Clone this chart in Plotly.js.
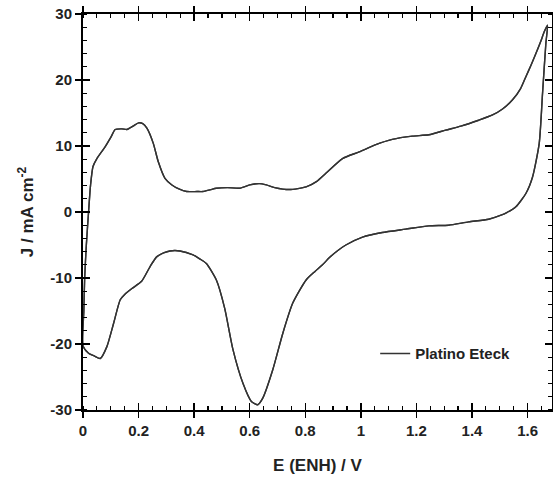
<!DOCTYPE html>
<html>
<head>
<meta charset="utf-8">
<script src="https://cdn.plot.ly/plotly-3.0.1.min.js"></script>
<style>html,body{margin:0;padding:0;background:#fff;}#chart{width:553px;height:481px;}</style>
</head>
<body>
<div id="chart"></div>
<script>
// Anodic sweep (E in V vs ENH, J in mA cm^-2)
const anodicE = [0, 0.003, 0.006, 0.012, 0.02, 0.027, 0.036, 0.05, 0.08, 0.1, 0.116, 0.14, 0.158, 0.18, 0.2, 0.215, 0.23, 0.253, 0.271, 0.295, 0.32, 0.345, 0.373, 0.41, 0.432, 0.46, 0.48, 0.52, 0.564, 0.6, 0.635, 0.66, 0.69, 0.743, 0.803, 0.84, 0.875, 0.934, 0.994, 1.054, 1.113, 1.185, 1.245, 1.305, 1.36, 1.424, 1.474, 1.51, 1.546, 1.575, 1.594, 1.612, 1.63, 1.648, 1.66, 1.672];
const anodicJ = [-20.3, -15, -10, -5, 0, 4, 6.9, 8.1, 9.9, 11.3, 12.5, 12.6, 12.5, 13.0, 13.5, 13.4, 12.7, 10.4, 7.6, 5.1, 4.1, 3.5, 3.1, 3.1, 3.1, 3.4, 3.6, 3.7, 3.6, 4.1, 4.3, 4.1, 3.7, 3.4, 3.8, 4.6, 5.9, 8.1, 9.1, 10.2, 11.0, 11.5, 11.7, 12.4, 13.0, 13.9, 14.7, 15.6, 17.0, 18.7, 20.5, 22.2, 24.0, 25.9, 27.3, 28.3];
// Cathodic sweep
const cathodicE = [1.666, 1.654, 1.642, 1.618, 1.594, 1.558, 1.525, 1.507, 1.46, 1.388, 1.316, 1.245, 1.161, 1.077, 1.006, 0.946, 0.915, 0.887, 0.862, 0.835, 0.803, 0.755, 0.719, 0.683, 0.647, 0.629, 0.606, 0.576, 0.54, 0.51, 0.48, 0.444, 0.42, 0.396, 0.349, 0.313, 0.29, 0.265, 0.241, 0.211, 0.176, 0.15, 0.134, 0.11, 0.086, 0.062, 0.04, 0.02, 0];
const cathodicJ = [25.6, 18.0, 10.4, 5.3, 2.8, 0.8, -0.1, -0.45, -1.1, -1.5, -2.0, -2.1, -2.6, -3.1, -3.8, -5.0, -5.9, -6.9, -8.0, -9.0, -10.3, -13.8, -18.4, -23.9, -28.2, -29.2, -28.7, -26.0, -20.9, -14.6, -10.3, -7.8, -7.1, -6.5, -5.9, -5.9, -6.2, -6.8, -8.3, -10.5, -11.6, -12.5, -13.3, -16.9, -20.4, -22.2, -21.8, -21.4, -20.3];

const seriesName = "Platino Eteck";
const xTitle = "E (ENH) / V";
const yTitle = "J / mA cm<sup>-2</sup>";
const xTickVals = [0, 0.2, 0.4, 0.6, 0.8, 1, 1.2, 1.4, 1.6];
const xTickText = ["0", "0.2", "0.4", "0.6", "0.8", "1", "1.2", "1.4", "1.6"];
const yTickVals = [-30, -20, -10, 0, 10, 20, 30];
const yTickText = ["-30", "-20", "-10", "0", "10", "20", "30"];

const E = anodicE.concat(cathodicE);
const J = anodicJ.concat(cathodicJ);

const xRange = [0, 1.688];
const yRange = [-30, 30];
const fontFam = "Liberation Sans, Arial, sans-serif";
const tickFont = {family: fontFam, size: 15, color: "#222", weight: "bold"};
const lineStyle = {color: "#333", width: 1.4, shape: "spline", smoothing: 0.6};

const trace = {x: E, y: J, type: "scatter", mode: "lines", name: seriesName, line: lineStyle};
// same curve on the overlay axes (carries the inner halves of the major ticks)
const traceOverlay = {x: E, y: J, type: "scatter", mode: "lines", name: seriesName, line: lineStyle,
                      xaxis: "x2", yaxis: "y2", showlegend: false, hoverinfo: "skip"};

const layout = {
  width: 553, height: 481,
  margin: {l: 83, r: 1, t: 14, b: 71, pad: 0},
  paper_bgcolor: "#fff", plot_bgcolor: "#fff",
  font: {family: fontFam, color: "#222"},
  showlegend: true,
  legend: {x: 0.623, y: 0.142, xanchor: "left", yanchor: "middle", bgcolor: "rgba(0,0,0,0)",
           font: {family: fontFam, size: 15, color: "#222", weight: "bold"}},
  xaxis: {
    range: xRange, tickmode: "array", tickvals: xTickVals, ticktext: xTickText,
    ticks: "outside", ticklen: 6, tickwidth: 1.5, tickcolor: "#000",
    showline: true, linewidth: 2, linecolor: "#000", mirror: "ticks",
    showgrid: false, zeroline: false,
    tickfont: tickFont,
    minor: {tickmode: "linear", tick0: 0, dtick: 0.05, ticks: "inside", ticklen: 4, tickwidth: 1.2, tickcolor: "#000", showgrid: false},
    title: {text: xTitle, font: {family: fontFam, size: 17, color: "#222", weight: "bold"}, standoff: 21}
  },
  yaxis: {
    range: yRange, tickmode: "array", tickvals: yTickVals, ticktext: yTickText,
    ticks: "outside", ticklen: 6, tickwidth: 1.5, tickcolor: "#000",
    showline: true, linewidth: 2, linecolor: "#000", mirror: "ticks",
    showgrid: false, zeroline: false,
    tickfont: tickFont,
    minor: {tickmode: "linear", tick0: 0, dtick: 2, ticks: "inside", ticklen: 4, tickwidth: 1.2, tickcolor: "#000", showgrid: false},
    title: {text: yTitle, font: {family: fontFam, size: 17, color: "#222", weight: "bold"}, standoff: 12}
  },
  xaxis2: {
    range: xRange, overlaying: "x", anchor: "y2", tickmode: "array", tickvals: xTickVals, showticklabels: false,
    ticks: "inside", ticklen: 7, tickwidth: 1.5, tickcolor: "#000", mirror: "ticks",
    showline: false, showgrid: false, zeroline: false
  },
  yaxis2: {
    range: yRange, overlaying: "y", anchor: "x2", tickmode: "array", tickvals: yTickVals, showticklabels: false,
    ticks: "inside", ticklen: 7, tickwidth: 1.5, tickcolor: "#000", mirror: "ticks",
    showline: false, showgrid: false, zeroline: false
  }
};

Plotly.newPlot("chart", [trace, traceOverlay], layout, {displayModeBar: false, staticPlot: true});
</script>
</body>
</html>
